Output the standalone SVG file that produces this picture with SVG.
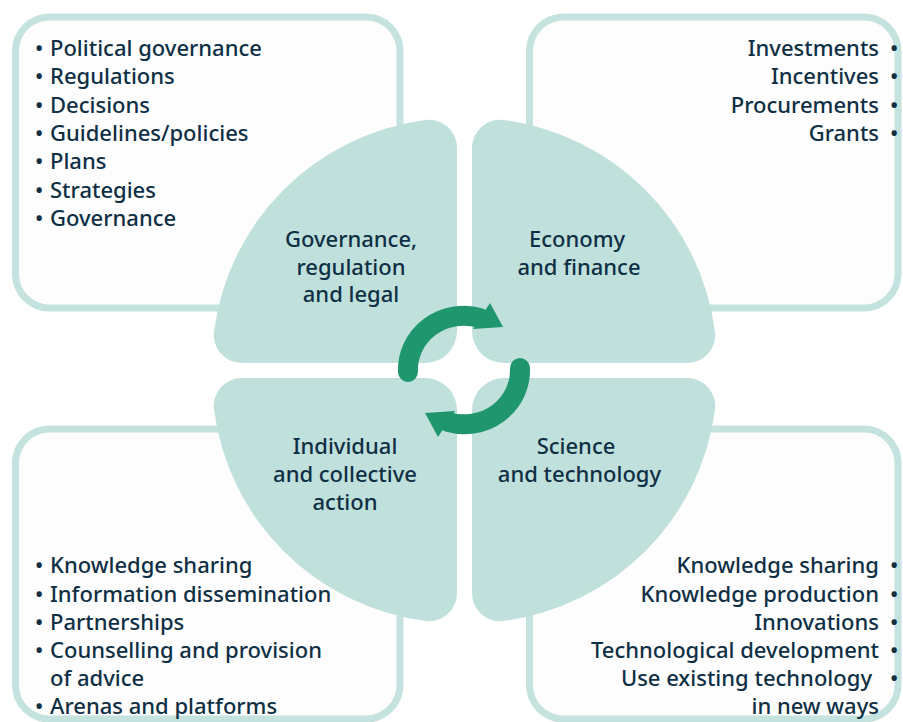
<svg xmlns="http://www.w3.org/2000/svg" width="903" height="722" viewBox="0 0 903 722">
  <defs>
    <style>
      .box { fill: #fdfdfd; stroke: #c4e2de; stroke-width: 7; }
      .petal { fill: #c0e0dc; }
      .title { font-family: "Noto Sans", "Open Sans", "Liberation Sans", sans-serif; font-size: 22px; font-weight: 500; fill: #0f2f45; text-anchor: middle; }
      .item { font-family: "Noto Sans", "Open Sans", "Liberation Sans", sans-serif; font-size: 22px; font-weight: 500; fill: #0f2f45; }
      .arrow-body { fill: none; stroke: #1f966d; stroke-width: 20; stroke-linecap: round; }
      .arrow-head { fill: #1f966d; }
    </style>
    <!-- quarter disc with rounded corners; inner corner at the origin -->
    <path id="quarter" d="M 0 -32 L 0 -215.2 A 28 28 0 0 0 -31.6 -243 A 245 245 0 0 0 -243 -31.6 A 28 28 0 0 0 -215.2 0 L -32 0 A 32 32 0 0 0 0 -32 Z"/>
  </defs>

  <rect width="903" height="722" fill="#ffffff"/>

  <g id="governance">
    <rect class="box" x="15.5" y="17" width="384.5" height="291" rx="34"/>
    <use href="#quarter" class="petal" transform="translate(457,363)"/>
    <text class="title"><tspan x="351" y="247">Governance,</tspan><tspan x="351" y="274.5">regulation</tspan><tspan x="351" y="302">and legal</tspan></text>
    <text class="item"><tspan x="35" y="56">•</tspan><tspan x="50" y="56">Political governance</tspan></text>
    <text class="item"><tspan x="35" y="84.3">•</tspan><tspan x="50" y="84.3">Regulations</tspan></text>
    <text class="item"><tspan x="35" y="112.7">•</tspan><tspan x="50" y="112.7">Decisions</tspan></text>
    <text class="item"><tspan x="35" y="141">•</tspan><tspan x="50" y="141">Guidelines/policies</tspan></text>
    <text class="item"><tspan x="35" y="169.3">•</tspan><tspan x="50" y="169.3">Plans</tspan></text>
    <text class="item"><tspan x="35" y="197.7">•</tspan><tspan x="50" y="197.7">Strategies</tspan></text>
    <text class="item"><tspan x="35" y="226">•</tspan><tspan x="50" y="226">Governance</tspan></text>
  </g>

  <g id="economy">
    <rect class="box" x="529.5" y="17" width="368.5" height="291" rx="34"/>
    <use href="#quarter" class="petal" transform="translate(472,363) scale(-1,1)"/>
    <text class="title"><tspan x="577" y="247">Economy</tspan><tspan x="579" y="274.5">and finance</tspan></text>
    <text class="item"><tspan x="879" y="56" text-anchor="end">Investments</tspan><tspan x="890" y="56">•</tspan></text>
    <text class="item"><tspan x="879" y="84.3" text-anchor="end">Incentives</tspan><tspan x="890" y="84.3">•</tspan></text>
    <text class="item"><tspan x="879" y="112.7" text-anchor="end">Procurements</tspan><tspan x="890" y="112.7">•</tspan></text>
    <text class="item"><tspan x="879" y="141" text-anchor="end">Grants</tspan><tspan x="890" y="141">•</tspan></text>
  </g>

  <g id="individual">
    <rect class="box" x="15.5" y="429" width="384.5" height="290" rx="34"/>
    <use href="#quarter" class="petal" transform="translate(457,378) scale(1,-1)"/>
    <text class="title"><tspan x="345" y="454">Individual</tspan><tspan x="345" y="482">and collective</tspan><tspan x="345" y="510">action</tspan></text>
    <text class="item"><tspan x="35" y="573">•</tspan><tspan x="50" y="573">Knowledge sharing</tspan></text>
    <text class="item"><tspan x="35" y="601.5">•</tspan><tspan x="50" y="601.5">Information dissemination</tspan></text>
    <text class="item"><tspan x="35" y="629.5">•</tspan><tspan x="50" y="629.5">Partnerships</tspan></text>
    <text class="item"><tspan x="35" y="658">•</tspan><tspan x="50" y="658">Counselling and provision</tspan></text>
    <text class="item"><tspan x="50" y="686">of advice</tspan></text>
    <text class="item"><tspan x="35" y="714">•</tspan><tspan x="50" y="714">Arenas and platforms</tspan></text>
  </g>

  <g id="science">
    <rect class="box" x="529.5" y="429" width="368.5" height="290" rx="34"/>
    <use href="#quarter" class="petal" transform="translate(472,378) scale(-1,-1)"/>
    <text class="title"><tspan x="576" y="454">Science</tspan><tspan x="579.5" y="482">and technology</tspan></text>
    <text class="item"><tspan x="879" y="573" text-anchor="end">Knowledge sharing</tspan><tspan x="890" y="573">•</tspan></text>
    <text class="item"><tspan x="879" y="601.5" text-anchor="end">Knowledge production</tspan><tspan x="890" y="601.5">•</tspan></text>
    <text class="item"><tspan x="879" y="629.5" text-anchor="end">Innovations</tspan><tspan x="890" y="629.5">•</tspan></text>
    <text class="item"><tspan x="879" y="658" text-anchor="end">Technological development</tspan><tspan x="890" y="658">•</tspan></text>
    <text class="item"><tspan x="872" y="686" text-anchor="end">Use existing technology</tspan><tspan x="890" y="686">•</tspan></text>
    <text class="item"><tspan x="879" y="714" text-anchor="end">in new ways</tspan></text>
  </g>

  <!-- circular arrows linking the four areas -->
  <g id="connectors" transform="translate(464,370)">
    <g id="arrow-upper">
      <path class="arrow-body" d="M -56 2 A 56 54 0 0 1 16 -52"/>
      <polygon class="arrow-head" points="26,-67 39,-43 9,-41"/>
    </g>
    <g id="arrow-lower" transform="rotate(180)">
      <path class="arrow-body" d="M -56 2 A 56 54 0 0 1 16 -52"/>
      <polygon class="arrow-head" points="26,-67 39,-43 9,-41"/>
    </g>
  </g>
</svg>
